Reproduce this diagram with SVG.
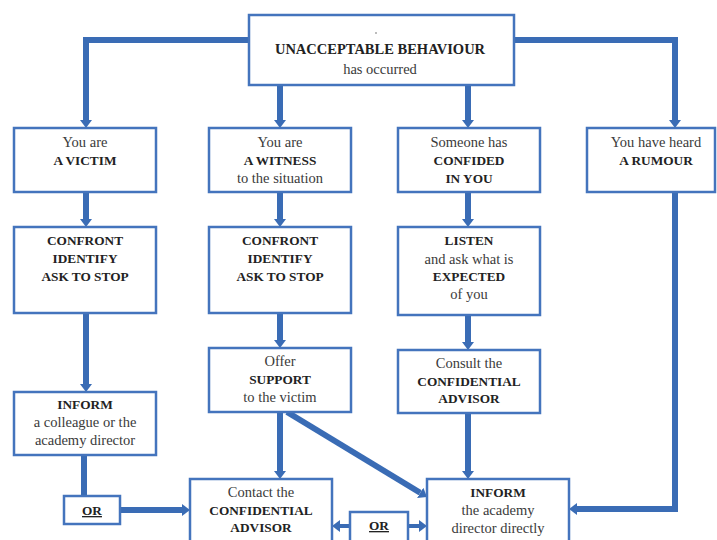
<svg xmlns="http://www.w3.org/2000/svg" width="717" height="540" viewBox="0 0 717 540">
<style>
.box{fill:#fff;stroke:#4474bd;stroke-width:2.5}
.c{fill:none;stroke:#3a6cb5;stroke-width:6}
.c2{fill:none;stroke:#3a6cb5;stroke-width:4}
text{font-family:"Liberation Serif","DejaVu Serif",serif;font-size:14.5px;text-anchor:middle;fill:#3a3a3a}
.b{font-weight:bold;fill:#222;font-size:13.3px}
.t{font-size:14.5px}
</style>
<defs>
<marker id="ah" viewBox="0 0 8 12" refX="0" refY="6" markerWidth="8" markerHeight="12" markerUnits="userSpaceOnUse" orient="auto">
<path d="M0,0 L8,6 L0,12 z" fill="#3a6cb5"/>
</marker>
</defs>
<rect width="717" height="540" fill="#fff"/>
<g id="connectors">
<path class="c" d="M250,40 H86 V120" marker-end="url(#ah)"/>
<path class="c" d="M513,40 H675 V120" marker-end="url(#ah)"/>
<path class="c" d="M280,85 V120" marker-end="url(#ah)"/>
<path class="c" d="M468,85 V120" marker-end="url(#ah)"/>
<path class="c" d="M86,192 V219" marker-end="url(#ah)"/>
<path class="c" d="M280,192 V219" marker-end="url(#ah)"/>
<path class="c" d="M468,192 V219" marker-end="url(#ah)"/>
<path class="c" d="M86,313 V384" marker-end="url(#ah)"/>
<path class="c" d="M280,313 V340" marker-end="url(#ah)"/>
<path class="c" d="M468,315 V342" marker-end="url(#ah)"/>
<path class="c" d="M84,455 V496"/>
<path class="c" d="M120,510 H182" marker-end="url(#ah)"/>
<path class="c" d="M280,412 V471" marker-end="url(#ah)"/>
<path class="c" d="M287,412 L420.2,492.8" marker-end="url(#ah)"/>
<path class="c" d="M468,413 V471" marker-end="url(#ah)"/>
<path class="c" d="M675,192 V509 H577" marker-end="url(#ah)"/>
<path class="c2" d="M408,526 H419" marker-end="url(#ah)"/>
<path class="c2" d="M350,526 H340" marker-end="url(#ah)"/>
</g>
<g id="top">
<rect class="box" x="249" y="15" width="265" height="70"/>
<circle cx="376" cy="33" r="0.8" fill="#666"/>
<text x="380" y="54" class="b t">UNACCEPTABLE BEHAVIOUR</text>
<text x="380" y="74">has occurred</text>
</g>
<g id="victim">
<rect class="box" x="14" y="128" width="142" height="64"/>
<text x="85" y="147">You are</text>
<text x="85" y="165" class="b">A VICTIM</text>
</g>
<g id="witness">
<rect class="box" x="209" y="128" width="142" height="64"/>
<text x="280" y="147">You are</text>
<text x="280" y="165" class="b">A WITNESS</text>
<text x="280" y="183">to the situation</text>
</g>
<g id="confided">
<rect class="box" x="398" y="128" width="142" height="64"/>
<text x="469" y="147">Someone has</text>
<text x="469" y="165" class="b">CONFIDED</text>
<text x="469" y="183" class="b">IN YOU</text>
</g>
<g id="rumour">
<rect class="box" x="587" y="128" width="128" height="64"/>
<text x="656" y="147">You have heard</text>
<text x="656" y="165" class="b">A RUMOUR</text>
</g>
<g id="confront1">
<rect class="box" x="14" y="227" width="142" height="86"/>
<text x="85" y="245" class="b">CONFRONT</text>
<text x="85" y="263" class="b">IDENTIFY</text>
<text x="85" y="281" class="b">ASK TO STOP</text>
</g>
<g id="confront2">
<rect class="box" x="209" y="227" width="142" height="86"/>
<text x="280" y="245" class="b">CONFRONT</text>
<text x="280" y="263" class="b">IDENTIFY</text>
<text x="280" y="281" class="b">ASK TO STOP</text>
</g>
<g id="listen">
<rect class="box" x="398" y="227" width="142" height="88"/>
<text x="469" y="245" class="b">LISTEN</text>
<text x="469" y="264">and ask what is</text>
<text x="469" y="281" class="b">EXPECTED</text>
<text x="469" y="299">of you</text>
</g>
<g id="support">
<rect class="box" x="209" y="348" width="142" height="64"/>
<text x="280" y="366">Offer</text>
<text x="280" y="384" class="b">SUPPORT</text>
<text x="280" y="402">to the victim</text>
</g>
<g id="consult">
<rect class="box" x="398" y="350" width="142" height="63"/>
<text x="469" y="368">Consult the</text>
<text x="469" y="386" class="b">CONFIDENTIAL</text>
<text x="469" y="403" class="b">ADVISOR</text>
</g>
<g id="inform1">
<rect class="box" x="14" y="392" width="142" height="63"/>
<text x="85" y="409" class="b">INFORM</text>
<text x="85" y="427">a colleague or the</text>
<text x="85" y="445">academy director</text>
</g>
<g id="or1">
<rect class="box" x="64" y="496" width="56" height="28"/>
<text x="92" y="515" class="b" text-decoration="underline">OR</text>
</g>
<g id="contact">
<rect class="box" x="190" y="479" width="142" height="70"/>
<text x="261" y="497">Contact the</text>
<text x="261" y="515" class="b">CONFIDENTIAL</text>
<text x="261" y="532" class="b">ADVISOR</text>
</g>
<g id="or2">
<rect class="box" x="350" y="512" width="58" height="36"/>
<text x="379" y="530" class="b" text-decoration="underline">OR</text>
</g>
<g id="inform2">
<rect class="box" x="427" y="479" width="142" height="70"/>
<text x="498" y="497" class="b">INFORM</text>
<text x="498" y="515">the academy</text>
<text x="498" y="533">director directly</text>
</g>
</svg>
